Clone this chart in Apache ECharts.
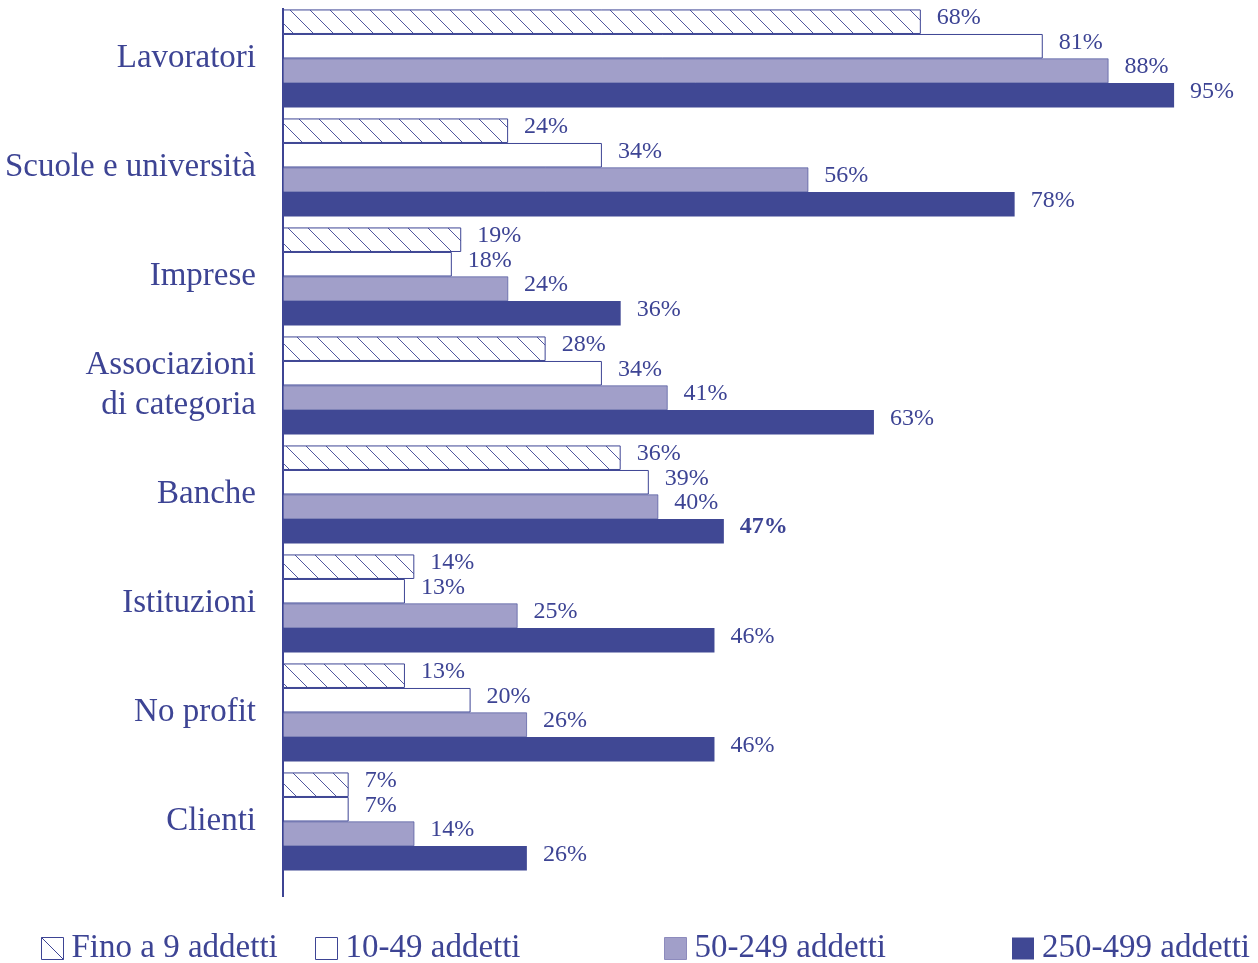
<!DOCTYPE html>
<html>
<head>
<meta charset="utf-8">
<script src="https://cdn.jsdelivr.net/npm/echarts@6/dist/echarts.min.js"></script>
<style>
  html, body { margin: 0; padding: 0; background: #ffffff; }
  #chart { width: 1258px; height: 963px; }
</style>
</head>
<body>
<div id="chart"></div>
<script>
// Categories (top to bottom) and shares (%) per company-size class
const categories = ['Lavoratori', 'Scuole e università', 'Imprese', 'Associazioni\ndi categoria',
  'Banche', 'Istituzioni', 'No profit', 'Clienti'];
const seriesNames = ['Fino a 9 addetti', '10-49 addetti', '50-249 addetti', '250-499 addetti'];
const fino9 = [68, 24, 19, 28, 36, 14, 13, 7];
const da10a49 = [81, 34, 18, 34, 39, 13, 20, 7];
const da50a249 = [88, 56, 24, 41, 40, 25, 26, 14];
const da250a499 = [95, 78, 36, 63, 47, 46, 46, 26];

const INK = '#3d4494';
const LIGHT = '#a19fc9';
const DARK = '#404894';
const FONT = '"Liberation Serif", "DejaVu Serif", serif';

// Diagonal hatch ("\") tile for the smallest size class
function hatchPattern() {
  const s = 20;
  const c = document.createElement('canvas');
  c.width = s; c.height = s;
  const g = c.getContext('2d');
  g.fillStyle = '#ffffff';
  g.fillRect(0, 0, s, s);
  g.strokeStyle = INK;
  g.lineWidth = 0.9;
  g.beginPath();
  g.moveTo(-2, -2); g.lineTo(s + 2, s + 2);
  g.moveTo(-2 - s, -2); g.lineTo(2, s + 2);
  g.moveTo(s - 2, -2); g.lineTo(2 * s + 2, s + 2);
  g.stroke();
  return { image: c, repeat: 'repeat' };
}

const chart = echarts.init(document.getElementById('chart'), null, { renderer: 'canvas' });

const labelBase = {
  show: true,
  position: 'right',
  distance: 16,
  offset: [0, -4],
  color: INK,
  fontFamily: FONT,
  fontSize: 24,
  formatter: p => p.value + '%'
};

function barSeries(name, values, itemStyle, boldIndex) {
  return {
    name: name,
    type: 'bar',
    barGap: 0,
    barCategoryGap: '10%',
    itemStyle: itemStyle,
    label: labelBase,
    emphasis: { disabled: true },
    data: values.map((v, i) => i === boldIndex
      ? { value: v, label: { fontWeight: 'bold' } }
      : v)
  };
}

function legendAt(left, item) {
  return {
    left: left,
    top: 932,
    padding: 0,
    itemWidth: 22,
    itemHeight: 22,
    itemGap: 0,
    selectedMode: false,
    textStyle: { color: INK, fontFamily: FONT, fontSize: 33, padding: [0, 0, 0, 3] },
    data: [item]
  };
}

const option = {
  animation: false,
  grid: { left: 283, right: 37, top: 4, bottom: 87, containLabel: false },
  xAxis: {
    type: 'value',
    min: 0,
    max: 100,
    show: false
  },
  yAxis: {
    type: 'category',
    inverse: true,
    data: categories,
    axisLine: { show: false },
    axisTick: { show: false },
    axisLabel: {
      margin: 27,
      color: INK,
      fontFamily: FONT,
      fontSize: 33,
      lineHeight: 40
    }
  },
  legend: [
    legendAt(41, { name: seriesNames[0], icon: 'path://M0,0H22V22H0Z M0,0L22,22',
      itemStyle: { color: '#ffffff', borderColor: INK, borderWidth: 1 } }),
    legendAt(315, { name: seriesNames[1], icon: 'rect',
      itemStyle: { color: '#ffffff', borderColor: INK, borderWidth: 1 } }),
    legendAt(664, { name: seriesNames[2], icon: 'rect',
      itemStyle: { color: LIGHT, borderColor: '#8d8bbd', borderWidth: 1 } }),
    legendAt(1012, { name: seriesNames[3], icon: 'rect',
      itemStyle: { color: DARK, borderWidth: 0 } })
  ],
  series: [
    barSeries(seriesNames[0], fino9, { color: hatchPattern(), borderColor: INK, borderWidth: 1 }),
    barSeries(seriesNames[1], da10a49, { color: '#ffffff', borderColor: INK, borderWidth: 1 }),
    barSeries(seriesNames[2], da50a249, { color: LIGHT, borderColor: INK, borderWidth: 0.6 }),
    barSeries(seriesNames[3], da250a499, { color: DARK }, 4)
  ]
};

chart.setOption(option);

// Vertical baseline at zero, running a little past the last category
const x0 = chart.convertToPixel({ xAxisIndex: 0 }, 0);
chart.setOption({
  graphic: [{
    type: 'line',
    shape: { x1: x0, y1: 8, x2: x0, y2: 897 },
    style: { stroke: INK, lineWidth: 2 },
    silent: true
  }]
});
</script>
</body>
</html>
